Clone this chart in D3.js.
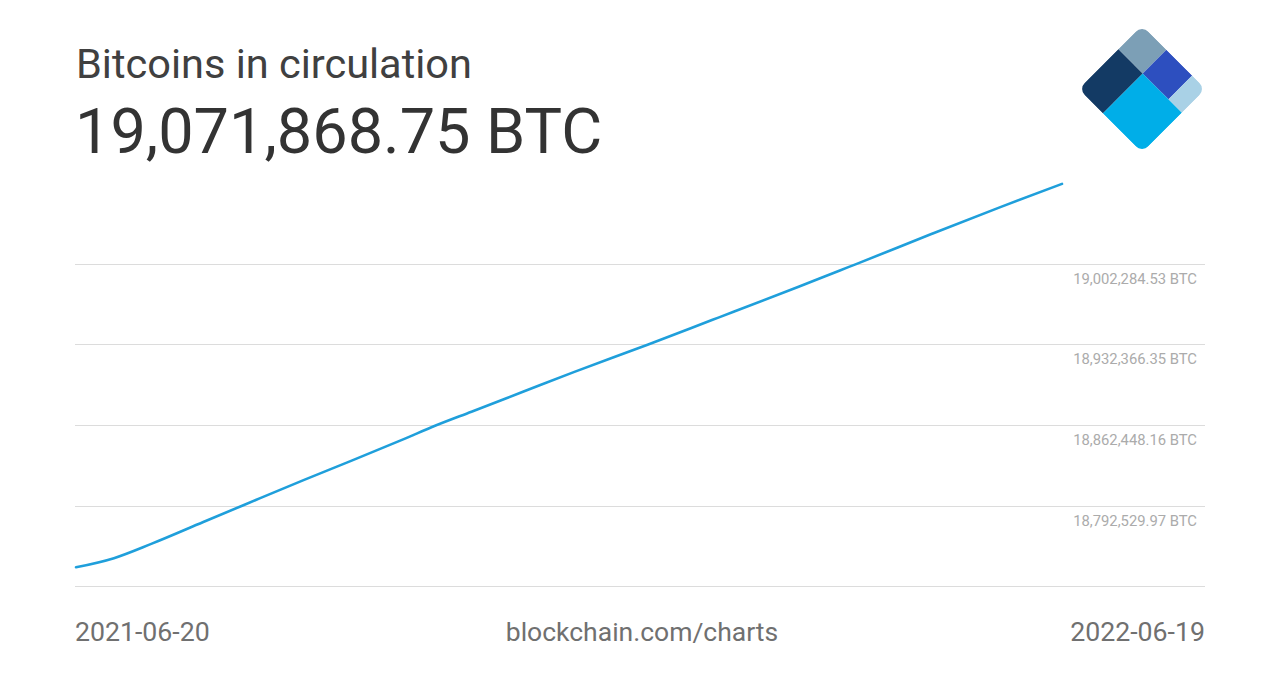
<!DOCTYPE html>
<html>
<head>
<meta charset="utf-8">
<script src="https://cdn.jsdelivr.net/npm/d3@7"></script>
<style>
  html, body { margin: 0; padding: 0; background: #fff; }
  svg { display: block; font-family: Roboto, "Noto Sans", sans-serif; }
</style>
</head>
<body>
<svg id="chart" width="1280" height="680"></svg>
<script>
// ---- data ----
const dates = [
  "2021-06-20","2021-07-04","2021-07-18","2021-08-06","2021-08-21","2021-09-12",
  "2021-09-30","2021-10-19","2021-10-31","2021-11-13","2021-12-02","2021-12-21",
  "2022-01-17","2022-02-10","2022-02-18","2022-03-14","2022-03-29","2022-04-04",
  "2022-05-02","2022-05-27","2022-06-19"
];
const supply = [
  18738850, 18746800, 18759400, 18778200, 18793000, 18814600,
  18831700, 18850200, 18862200, 18874000, 18891300, 18908600,
  18932200, 18953800, 18961000, 18982800, 18996700, 19002200,
  19028500, 19051500, 19071868.75
];
const gridValues = [18722611.79, 18792529.97, 18862448.16, 18932366.35, 19002284.53, 19072202.72];
const tickLabels = ["", "18,792,529.97 BTC", "18,862,448.16 BTC", "18,932,366.35 BTC", "19,002,284.53 BTC", ""];
const title = "Bitcoins in circulation";
const headline = "19,071,868.75 BTC";
const startLabel = "2021-06-20";
const endLabel = "2022-06-19";
const sourceLabel = "blockchain.com/charts";

// ---- drawing ----
const svg = d3.select("#chart");
const parse = d3.timeParse("%Y-%m-%d");
const data = dates.map((d, i) => ({ date: parse(d), value: supply[i] }));

const x = d3.scaleTime()
  .domain([parse(startLabel), parse(endLabel)])
  .range([76, 1062]);
const y = d3.scaleLinear()
  .domain([gridValues[0], gridValues[gridValues.length - 1]])
  .range([586, 183.5]);

// gridlines (all but the top one)
const gridG = svg.append("g");
gridValues.slice(0, 5).forEach((v, i) => {
  const yy = Math.round(y(v)) + 0.5;
  gridG.append("line")
    .attr("x1", 75).attr("x2", 1205)
    .attr("y1", yy).attr("y2", yy)
    .attr("stroke", "#dcdcdc").attr("stroke-width", 1);
  if (tickLabels[i]) {
    gridG.append("text")
      .attr("x", 1197).attr("y", yy + 19.5)
      .attr("text-anchor", "end")
      .attr("font-size", 14.8)
      .attr("fill", "#ababab")
      .text(tickLabels[i]);
  }
});

// line
const line = d3.line()
  .x(d => x(d.date))
  .y(d => y(d.value))
  .curve(d3.curveMonotoneX);
svg.append("path")
  .datum(data)
  .attr("d", line)
  .attr("fill", "none")
  .attr("stroke", "#1f9fdb")
  .attr("stroke-width", 2.6)
  .attr("stroke-linecap", "round");

// titles
svg.append("text")
  .attr("x", 76).attr("y", 78)
  .attr("font-size", 41.5)
  .attr("fill", "#404040")
  .text(title);
svg.append("text")
  .attr("x", 75).attr("y", 153)
  .attr("font-size", 63)
  .attr("fill", "#333")
  .text(headline);

// footer
svg.append("text")
  .attr("x", 75).attr("y", 641)
  .attr("font-size", 26.7)
  .attr("fill", "#707070")
  .text(startLabel);
svg.append("text")
  .attr("x", 642).attr("y", 641)
  .attr("text-anchor", "middle")
  .attr("font-size", 26.5)
  .attr("fill", "#707070")
  .text(sourceLabel);
svg.append("text")
  .attr("x", 1205).attr("y", 641)
  .attr("text-anchor", "end")
  .attr("font-size", 26.7)
  .attr("fill", "#707070")
  .text(endLabel);

// logo (rotated square split into tiles)
const s = 90;
const logo = svg.append("g").attr("transform", "translate(1078.4,89) rotate(-45)");
const defs = svg.append("defs");
defs.append("clipPath").attr("id", "logoClip")
  .append("rect").attr("width", s).attr("height", s).attr("rx", 9).attr("ry", 9);
const lg = logo.append("g").attr("clip-path", "url(#logoClip)");
const tiles = [
  { x0: 0,    y0: 0,    x1: 56.5, y1: 34.5, c: "#133a64" },
  { x0: 0,    y0: 34.5, x1: 56.5, y1: 90,   c: "#00aee8" },
  { x0: 56.5, y0: 0,    x1: 90,   y1: 34.5, c: "#7c9fb6" },
  { x0: 56.5, y0: 34.5, x1: 90,   y1: 71,   c: "#2d4fbf" },
  { x0: 56.5, y0: 71,   x1: 90,   y1: 90,   c: "#a9d1e6" }
];
lg.selectAll("rect").data(tiles).join("rect")
  .attr("x", d => d.x0).attr("y", d => d.y0)
  .attr("width", d => d.x1 - d.x0).attr("height", d => d.y1 - d.y0)
  .attr("fill", d => d.c);
</script>
</body>
</html>
